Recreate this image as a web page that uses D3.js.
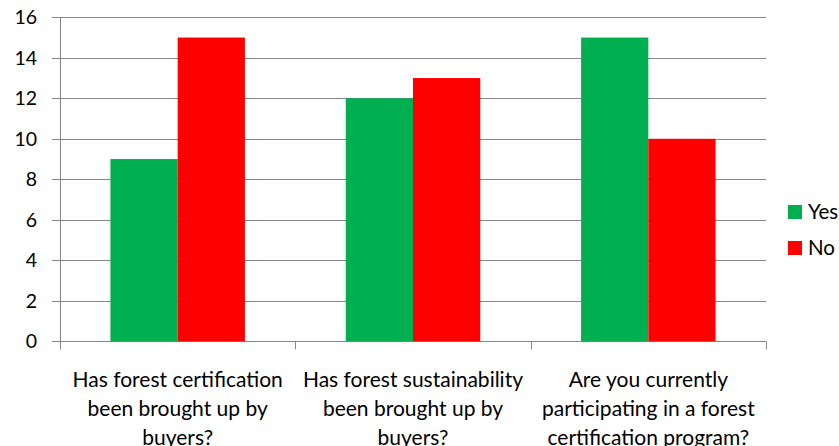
<!DOCTYPE html>
<html>
<head>
<meta charset="utf-8">
<script src="https://cdn.jsdelivr.net/npm/d3@7"></script>
<style>
  html, body { margin: 0; padding: 0; background: #fff; }
  svg { display: block; }
  text { font-family: Lato, "Open Sans", sans-serif; fill: #000; }
</style>
</head>
<body>
<svg id="chart" width="839" height="446"></svg>
<script>
// Survey answers
const categories = [
  "Has forest certification been brought up by buyers?",
  "Has forest sustainability been brought up by buyers?",
  "Are you currently participating in a forest certification program?"
];
const categoryLines = [
  ["Has forest certification", "been brought up by", "buyers?"],
  ["Has forest sustainability", "been brought up by", "buyers?"],
  ["Are you currently", "participating in a forest", "certification program?"]
];
const seriesNames = ["Yes", "No"];
const yesValues = [9, 12, 15];
const noValues = [15, 13, 10];
const yTicks = [0, 2, 4, 6, 8, 10, 12, 14, 16];
const colors = ["#00B050", "#FF0000"];

const svg = d3.select("#chart");
const plot = { left: 60, right: 766, top: 17.3, bottom: 341.3 };

const x = d3.scaleBand().domain(categories).range([plot.left, plot.right]);
// two bars per category, 150% gap between groups
const barW = x.bandwidth() / 3.5;
const xs = d3.scaleBand().domain(seriesNames)
  .range([barW * 0.75, barW * 2.75]).padding(0);
const y = d3.scaleLinear().domain([0, 16]).range([plot.bottom, plot.top]);

// horizontal grid lines
svg.append("g")
  .selectAll("line")
  .data(yTicks)
  .join("line")
  .attr("x1", plot.left - 8)
  .attr("x2", plot.right)
  .attr("y1", d => Math.round(y(d)) + 0.5)
  .attr("y2", d => Math.round(y(d)) + 0.5)
  .attr("stroke", "#868686")
  .attr("stroke-width", 1);

// y tick labels
svg.append("g")
  .selectAll("text")
  .data(yTicks)
  .join("text")
  .attr("x", 37)
  .attr("y", d => y(d))
  .attr("dy", "0.35em")
  .attr("text-anchor", "end")
  .style("font-size", "19.5px")
  .text(d => d);

// bars
const rows = categories.map((c, i) => ({ cat: c, vals: [yesValues[i], noValues[i]] }));
const groups = svg.append("g")
  .selectAll("g")
  .data(rows)
  .join("g")
  .attr("transform", d => `translate(${x(d.cat)},0)`);
groups.selectAll("rect")
  .data(d => d.vals.map((v, j) => ({ name: seriesNames[j], v, j })))
  .join("rect")
  .attr("x", d => xs(d.name))
  .attr("width", xs.bandwidth())
  .attr("y", d => y(d.v))
  .attr("height", d => y(0) - y(d.v))
  .attr("fill", d => colors[d.j]);

// y axis line and category ticks
svg.append("line")
  .attr("x1", plot.left + 0.5).attr("x2", plot.left + 0.5)
  .attr("y1", plot.top).attr("y2", plot.bottom + 8)
  .attr("stroke", "#868686");
const bounds = categories.map(c => x(c)).concat([plot.right]);
svg.append("g")
  .selectAll("line")
  .data(bounds)
  .join("line")
  .attr("x1", d => Math.round(d) + 0.5)
  .attr("x2", d => Math.round(d) + 0.5)
  .attr("y1", plot.bottom)
  .attr("y2", plot.bottom + 8)
  .attr("stroke", "#868686");

// category labels
const lab = svg.append("g")
  .selectAll("text")
  .data(categories)
  .join("text")
  .attr("text-anchor", "middle")
  .style("font-size", "21px")
  .attr("transform", d => `translate(${x(d) + x.bandwidth() / 2},0)`);
lab.selectAll("tspan")
  .data((d, i) => categoryLines[i])
  .join("tspan")
  .attr("x", 0)
  .attr("y", (d, k) => 387 + k * 29)
  .text(d => d);

// legend
const leg = svg.append("g")
  .selectAll("g")
  .data(seriesNames)
  .join("g")
  .attr("transform", (d, i) => `translate(788,${205 + i * 36})`);
leg.append("rect")
  .attr("width", 14).attr("height", 14)
  .attr("fill", (d, i) => colors[i]);
leg.append("text")
  .attr("x", 20).attr("y", 7)
  .attr("dy", "0.35em")
  .style("font-size", "20.5px")
  .text(d => d);
</script>
</body>
</html>
